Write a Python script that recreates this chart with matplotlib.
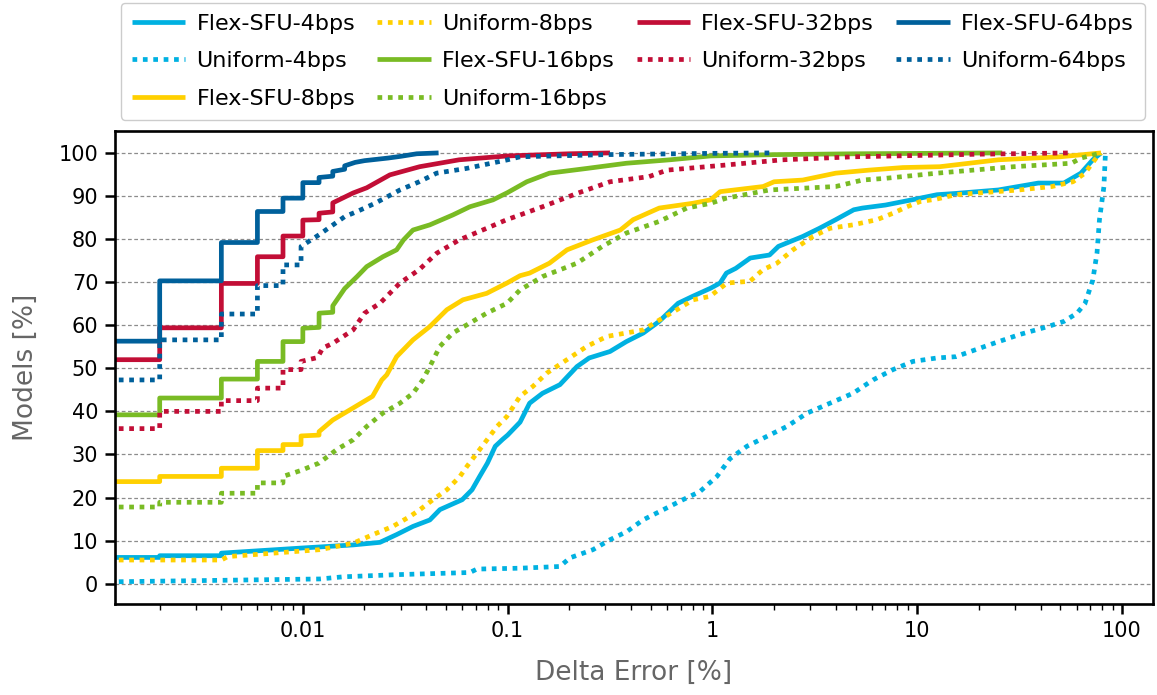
import matplotlib
matplotlib.use("Agg")
import matplotlib.pyplot as plt
from matplotlib.ticker import LogLocator, FixedLocator, FixedFormatter

# Cumulative share of models [%] vs. delta error [%] for each scheme.
# Repeated x values mark the vertical jumps of the CDF steps.
labels = ["Flex-SFU-4bps", "Uniform-4bps", "Flex-SFU-8bps", "Uniform-8bps",
          "Flex-SFU-16bps", "Uniform-16bps", "Flex-SFU-32bps", "Uniform-32bps",
          "Flex-SFU-64bps", "Uniform-64bps"]

flex4_x = [0.001, 0.002, 0.002, 0.004, 0.004, 0.01, 0.0176, 0.0238, 0.0287, 0.0345,
           0.0417, 0.0467, 0.06, 0.067, 0.073, 0.0797, 0.087, 0.0945, 0.1, 0.115,
           0.128, 0.148, 0.18, 0.218, 0.25, 0.316, 0.38, 0.46, 0.55, 0.68, 0.8,
           0.98, 1.09, 1.17, 1.3, 1.53, 1.9, 2.1, 2.76, 3.33, 4.0, 4.9, 5.4, 7.0,
           9.4, 12.5, 15.5, 24.9, 39, 52, 63, 72, 79]
flex4_y = [6.1, 6.1, 6.5, 6.5, 7.1, 8.3, 9.0, 9.6, 11.4, 13.3,
           14.8, 17.2, 19.5, 21.8, 24.9, 28.0, 31.9, 33.5, 34.5, 37.5,
           41.9, 44.2, 46.2, 50.4, 52.4, 53.9, 56.2, 58.2, 60.9, 65.1, 66.7,
           68.6, 69.8, 72.1, 73.2, 75.6, 76.3, 78.3, 80.6, 82.5, 84.5, 86.8, 87.2, 87.9,
           89.1, 90.3, 90.6, 91.4, 93.0, 93.0, 95.3, 98.4, 100]

unif4_x = [0.001, 0.0121, 0.0157, 0.0287, 0.0654, 0.0708, 0.115, 0.18, 0.2014, 0.261,
           0.316, 0.382, 0.458, 0.555, 0.718, 0.869, 1.052, 1.217, 1.473, 1.845,
           2.31, 2.897, 3.75, 4.856, 6.08, 7.62, 9.53, 12.48, 15.45, 22.65, 31.4,
           43.5, 52.1, 60.3, 65.9, 72, 75.5, 77.6, 81.6, 83]
unif4_y = [0.4, 1.1, 1.6, 2.1, 2.6, 3.4, 3.6, 4.0, 6.0, 7.9,
           10.2, 12.1, 14.8, 16.8, 19.5, 21.4, 24.9, 29.0, 31.9, 34.2,
           36.5, 39.6, 41.9, 44.2, 47.3, 49.7, 51.6, 52.4, 52.7, 55.5, 57.8,
           59.7, 60.9, 62.8, 65.0, 70.5, 76.8, 84.5, 92.2, 100]

flex8_x = [0.001, 0.002, 0.002, 0.004, 0.004, 0.006, 0.006, 0.008, 0.008, 0.0098,
           0.0098, 0.012, 0.012, 0.014, 0.0176, 0.0219, 0.0243, 0.0257, 0.0287,
           0.0345, 0.0417, 0.0505, 0.0605, 0.079, 0.0993, 0.115, 0.128, 0.16,
           0.195, 0.26, 0.355, 0.41, 0.55, 0.8, 0.98, 1.09, 1.77, 2.0, 2.76, 4.0,
           5.8, 8.5, 12.9, 24.9, 50, 79]
flex8_y = [23.7, 23.7, 24.9, 24.9, 26.8, 26.8, 30.9, 30.9, 32.3, 32.3,
           34.3, 34.5, 35.3, 38.0, 40.8, 43.5, 47.3, 48.5, 52.7,
           56.6, 59.7, 63.6, 65.9, 67.4, 69.8, 71.5, 72.1, 74.4,
           77.5, 79.8, 82.1, 84.5, 87.2, 88.3, 89.1, 91.0, 92.2, 93.3, 93.7, 95.3,
           96.0, 96.6, 96.8, 98.4, 99.1, 100]

unif8_x = [0.001, 0.004, 0.0043, 0.0121, 0.0176, 0.022, 0.0275, 0.0333, 0.0373,
           0.0432, 0.0505, 0.0585, 0.0632, 0.0708, 0.0793, 0.0887, 0.0991, 0.115,
           0.1328, 0.1555, 0.1947, 0.2438, 0.3053, 0.458, 0.5545, 0.671, 0.804,
           0.973, 1.178, 1.525, 1.766, 2.066, 2.473, 3.097, 3.75, 4.856, 6.36,
           7.62, 8.91, 10.32, 12.48, 15.45, 31.4, 45.5, 57.6, 65.9, 75.5, 79]
unif8_y = [5.5, 5.5, 6.3, 7.9, 9.4, 11.4, 13.3, 15.6, 17.2,
           19.5, 21.8, 24.9, 27.2, 30.3, 33.4, 36.5, 38.8, 43.5,
           45.8, 48.9, 52.0, 55.1, 57.4, 58.9, 61.3, 63.6, 65.9,
           66.7, 69.8, 70.2, 72.9, 74.4, 77.5, 80.6, 82.5, 83.3, 84.5,
           86.0, 87.5, 88.7, 89.3, 90.3, 91.4, 92.2, 93.3, 95.3, 99.1, 100]

flex16_x = [0.001, 0.002, 0.002, 0.004, 0.004, 0.006, 0.006, 0.008, 0.008, 0.01,
            0.01, 0.012, 0.012, 0.014, 0.014, 0.016, 0.0184, 0.0205, 0.0246,
            0.0287, 0.031, 0.0345, 0.0417, 0.054, 0.0654, 0.0848, 0.1, 0.124,
            0.16, 0.244, 0.38, 0.62, 0.98, 2.0, 5.0, 26]
flex16_y = [39.2, 39.2, 43.1, 43.1, 47.5, 47.5, 51.6, 51.6, 56.2, 56.2,
            59.3, 59.5, 62.8, 63.0, 64.5, 68.5, 71.3, 73.6, 75.9,
            77.5, 79.8, 82.1, 83.3, 85.6, 87.5, 89.1, 90.8, 93.3,
            95.3, 96.4, 97.6, 98.4, 99.3, 99.6, 99.8, 100]

unif16_x = [0.001, 0.002, 0.002, 0.004, 0.004, 0.006, 0.006, 0.008, 0.008, 0.0098,
            0.012, 0.0146, 0.0176, 0.0205, 0.0246, 0.0298, 0.0345, 0.0385, 0.0417,
            0.0467, 0.054, 0.0654, 0.079, 0.0993, 0.115, 0.148, 0.218, 0.29, 0.38,
            0.55, 0.75, 0.98, 1.17, 1.9, 4.0, 5.4, 7.0, 12.5, 29.6, 56.6, 63, 79]
unif16_y = [17.8, 17.8, 18.9, 18.9, 21.0, 21.0, 23.4, 23.4, 24.9, 26.3,
            28.0, 31.1, 33.4, 36.5, 39.6, 41.9, 44.2, 47.3, 50.4,
            55.1, 58.2, 60.5, 62.8, 65.1, 68.2, 71.3, 74.4, 78.3, 81.4,
            84.1, 87.2, 88.3, 89.5, 91.4, 92.2, 93.7, 94.1, 95.3, 96.8, 97.6, 98.8, 100]

flex32_x = [0.001, 0.002, 0.002, 0.004, 0.004, 0.006, 0.006, 0.008, 0.008, 0.01,
            0.01, 0.012, 0.012, 0.014, 0.014, 0.0176, 0.0205, 0.0266, 0.0372,
            0.058, 0.1, 0.2, 0.316]
flex32_y = [52.0, 52.0, 59.4, 59.4, 69.7, 69.7, 75.9, 75.9, 80.7, 80.7,
            84.4, 84.5, 86.0, 86.3, 88.4, 90.7, 91.9, 94.9, 96.8,
            98.4, 99.3, 99.8, 100]

unif32_x = [0.001, 0.002, 0.002, 0.004, 0.004, 0.006, 0.006, 0.008, 0.008, 0.0098,
            0.0098, 0.0118, 0.0125, 0.014, 0.0176, 0.02, 0.0238, 0.0298, 0.037,
            0.045, 0.058, 0.079, 0.099, 0.115, 0.148, 0.218, 0.316, 0.49, 0.6,
            1.17, 2.2, 4.9, 20, 57]
unif32_y = [36.0, 36.0, 40.0, 40.0, 42.5, 42.5, 45.4, 45.4, 49.7, 49.7,
            51.6, 52.5, 54.7, 55.8, 58.9, 62.8, 65.1, 69.8, 72.9,
            76.7, 79.8, 82.5, 84.5, 85.6, 87.5, 90.6, 93.3, 94.5, 96.0,
            97.2, 98.4, 99.1, 99.7, 100]

flex64_x = [0.001, 0.002, 0.002, 0.004, 0.004, 0.006, 0.006, 0.008, 0.008, 0.01,
            0.01, 0.012, 0.012, 0.014, 0.014, 0.016, 0.016, 0.018, 0.02, 0.026,
            0.03, 0.036, 0.046]
flex64_y = [56.3, 56.3, 70.3, 70.3, 79.2, 79.2, 86.4, 86.4, 89.5, 89.5,
            93.1, 93.1, 94.3, 94.6, 95.7, 96.2, 97.0, 97.8, 98.2, 98.8,
            99.2, 99.8, 100]

unif64_x = [0.001, 0.002, 0.002, 0.004, 0.004, 0.006, 0.006, 0.008, 0.008, 0.0098,
            0.0098, 0.012, 0.016, 0.0184, 0.0225, 0.0298, 0.037, 0.045, 0.063, 0.1,
            0.115, 0.3, 1.0, 2.0]
unif64_y = [47.3, 47.3, 56.6, 56.6, 62.6, 62.6, 69.2, 69.2, 74.0, 74.0,
            78.3, 81.0, 85.2, 86.4, 88.3, 91.4, 93.3, 95.3, 96.4, 98.4,
            99.1, 99.6, 99.9, 100]

series_x = [flex4_x, unif4_x, flex8_x, unif8_x, flex16_x, unif16_x,
            flex32_x, unif32_x, flex64_x, unif64_x]
series_y = [flex4_y, unif4_y, flex8_y, unif8_y, flex16_y, unif16_y,
            flex32_y, unif32_y, flex64_y, unif64_y]

colors = {4: "#00b1e1", 8: "#ffd000", 16: "#79bb24", 32: "#c20e36", 64: "#00609b"}
bits = [4, 4, 8, 8, 16, 16, 32, 32, 64, 64]

plt.rcParams['font.family'] = ['DejaVu Sans']

fig = plt.figure(figsize=(11.57, 6.95), dpi=100)
ax = fig.add_axes([0.0994, 0.131, 0.8971, 0.6806])

lines = []
for i, (xs, ys) in enumerate(zip(series_x, series_y)):
    dotted = labels[i].startswith("Uniform")
    ls = (0, (1, 1.2)) if dotted else "-"
    ln, = ax.plot(xs, ys, color=colors[bits[i]], lw=3.4, ls=ls,
                  solid_capstyle="butt", dash_capstyle="butt", label=labels[i])
    lines.append(ln)

ax.set_xscale("log")
ax.set_xlim(0.00121, 141.6)
ax.set_ylim(-4.7, 105.1)

ax.yaxis.set_major_locator(FixedLocator(range(0, 101, 10)))
ax.xaxis.set_major_locator(FixedLocator([0.01, 0.1, 1, 10, 100]))
ax.xaxis.set_major_formatter(FixedFormatter(["0.01", "0.1", "1", "10", "100"]))
ax.xaxis.set_minor_locator(LogLocator(base=10, subs=range(2, 10)))

ax.grid(axis="y", color="#8c8c8c", lw=0.9, ls=(0, (3, 2)))
ax.set_axisbelow(True)

for sp in ax.spines.values():
    sp.set_linewidth(1.9)
    sp.set_color("black")

ax.tick_params(axis="both", which="major", direction="out", length=7, width=1.8,
               labelsize=15, pad=5)
ax.tick_params(axis="x", which="minor", direction="out", length=4, width=1.0)

ax.set_xlabel("Delta Error [%]", fontsize=19, color="#666666", labelpad=14)
ax.set_ylabel("Models [%]", fontsize=19, color="#666666", labelpad=14)

fig.legend(handles=lines, loc="upper center", bbox_to_anchor=(0.547, 0.996),
           ncol=4, fontsize=16, frameon=True, fancybox=True, edgecolor="#cccccc",
           framealpha=1, handlelength=2.4, handletextpad=0.5, columnspacing=1.0,
           labelspacing=0.78, borderpad=0.5, borderaxespad=0)

fig.savefig("out.png", dpi=100)
